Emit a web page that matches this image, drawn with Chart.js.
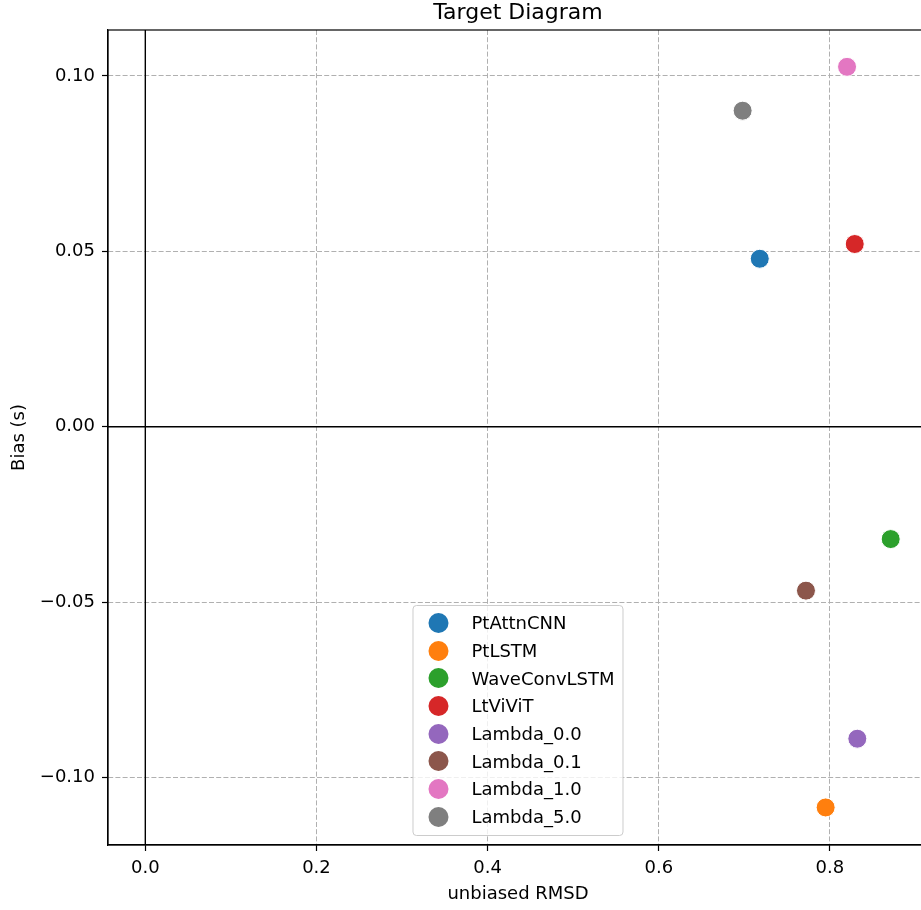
<!DOCTYPE html>
<html>
<head>
<meta charset="utf-8">
<title>Target Diagram</title>
<script src="https://cdn.jsdelivr.net/npm/chart.js"></script>
<style>
  html, body { margin: 0; padding: 0; overflow: hidden; background: #fff; }
  #wrap { position: relative; width: 940px; height: 910px; }
  #chart { display: block; }
  #legend {
    position: absolute;
    transform: translateX(-50%);
    background: rgba(255, 255, 255, 0.8);
    border: 1px solid #cccccc;
    border-radius: 4px;
    padding: 3px 8px 4px 15px;
    font: 18px "DejaVu Sans";
    color: #000;
  }
  #legend .row { display: flex; align-items: center; height: 27.7px; white-space: nowrap; }
  #legend .dot { width: 20px; height: 20px; border-radius: 50%; margin-right: 23px; flex: none; }
</style>
</head>
<body>
<div id="wrap">
  <canvas id="chart" width="940" height="910"></canvas>
  <div id="legend"></div>
</div>
<script>
// values
const models = ['PtAttnCNN', 'PtLSTM', 'WaveConvLSTM', 'LtViViT', 'Lambda_0.0', 'Lambda_0.1', 'Lambda_1.0', 'Lambda_5.0'];
const rmsd = [0.718, 0.795, 0.871, 0.829, 0.832, 0.772, 0.820, 0.698];
const bias = [0.0479, -0.1085, -0.0320, 0.0521, -0.0889, -0.0467, 0.1026, 0.0901];
const colors = ['#1f77b4', '#ff7f0e', '#2ca02c', '#d62728', '#9467bd', '#8c564b', '#e377c2', '#7f7f7f'];

const xTicks = [0, 0.2, 0.4, 0.6, 0.8];
const yTicks = [-0.10, -0.05, 0, 0.05, 0.10];
const xLimits = [-0.0436, 0.9146];
const yLimits = [-0.1192, 0.1131];

const font = { family: '"DejaVu Sans"', size: 18, weight: 'normal' };

const pointSets = models.map((name, i) => ({
  label: name,
  data: [{ x: rmsd[i], y: bias[i] }],
  backgroundColor: colors[i],
  borderColor: '#ffffff',
  borderWidth: 1,
  pointRadius: 9.5,
  pointHoverRadius: 9.5,
  order: 1
}));

// the two zero lines of the target diagram
const zeroLines = [
  { data: [{ x: xLimits[0], y: 0 }, { x: xLimits[1], y: 0 }] },
  { data: [{ x: 0, y: yLimits[0] }, { x: 0, y: yLimits[1] }] }
].map(d => ({
  type: 'line',
  label: '',
  data: d.data,
  borderColor: '#000',
  borderWidth: 1.4,
  pointRadius: 0,
  fill: false,
  order: 5
}));

const framePlugin = {
  id: 'frame',
  afterDraw(chart) {
    const { ctx, chartArea: a } = chart;
    ctx.save();
    ctx.strokeStyle = '#000';
    ctx.lineWidth = 1.2;
    ctx.strokeRect(a.left, a.top, a.right - a.left, a.bottom - a.top);
    ctx.restore();
  }
};

const gridOpts = { color: '#b0b0b0', lineWidth: 1, tickLength: 6, tickColor: '#000', tickWidth: 1.2 };
const borderOpts = { display: true, color: '#000', width: 1.2, dash: [5, 2.2] };

const chart = new Chart(document.getElementById('chart'), {
  type: 'scatter',
  data: { datasets: [...pointSets, ...zeroLines] },
  options: {
    responsive: false,
    animation: false,
    layout: { padding: { left: 0, right: 12, top: 0, bottom: 0 } },
    plugins: {
      legend: { display: false },
      tooltip: { enabled: false },
      title: {
        display: true,
        text: 'Target Diagram',
        fullSize: false,
        color: '#000',
        font: { family: '"DejaVu Sans"', size: 22, weight: 'normal', lineHeight: 1 },
        padding: { top: 2.5, bottom: 5.5 }
      }
    },
    scales: {
      x: {
        type: 'linear',
        min: xLimits[0],
        max: xLimits[1],
        afterBuildTicks: s => { s.ticks = xTicks.map(v => ({ value: v })); },
        afterFit: s => { s.height = 65; },
        ticks: { color: '#000', font, padding: 6.5, callback: v => v.toFixed(1) },
        grid: gridOpts,
        border: borderOpts,
        title: { display: true, text: 'unbiased RMSD', color: '#000', font, padding: { top: 0, bottom: 5.2 } }
      },
      y: {
        type: 'linear',
        min: yLimits[0],
        max: yLimits[1],
        afterBuildTicks: s => { s.ticks = yTicks.map(v => ({ value: v })); },
        afterFit: s => { s.width = 108; },
        ticks: { color: '#000', font, padding: 7, callback: v => (v < 0 ? '\u2212' : '') + Math.abs(v).toFixed(2) },
        grid: gridOpts,
        border: borderOpts,
        title: { display: true, text: 'Bias (s)', color: '#000', font, padding: { top: 8.7, bottom: 0 } }
      }
    }
  },
  plugins: [framePlugin]
});

// legend, built from the chart's datasets and placed at lower center of the plot
const legend = document.getElementById('legend');
chart.data.datasets.filter(d => d.label).forEach(d => {
  const row = document.createElement('div');
  row.className = 'row';
  const dot = document.createElement('span');
  dot.className = 'dot';
  dot.style.background = d.backgroundColor;
  const txt = document.createElement('span');
  txt.textContent = d.label;
  row.appendChild(dot);
  row.appendChild(txt);
  legend.appendChild(row);
});
const area = chart.chartArea;
legend.style.left = ((area.left + area.right) / 2) + 'px';
legend.style.top = (area.bottom - 9 - legend.offsetHeight) + 'px';
</script>
</body>
</html>
